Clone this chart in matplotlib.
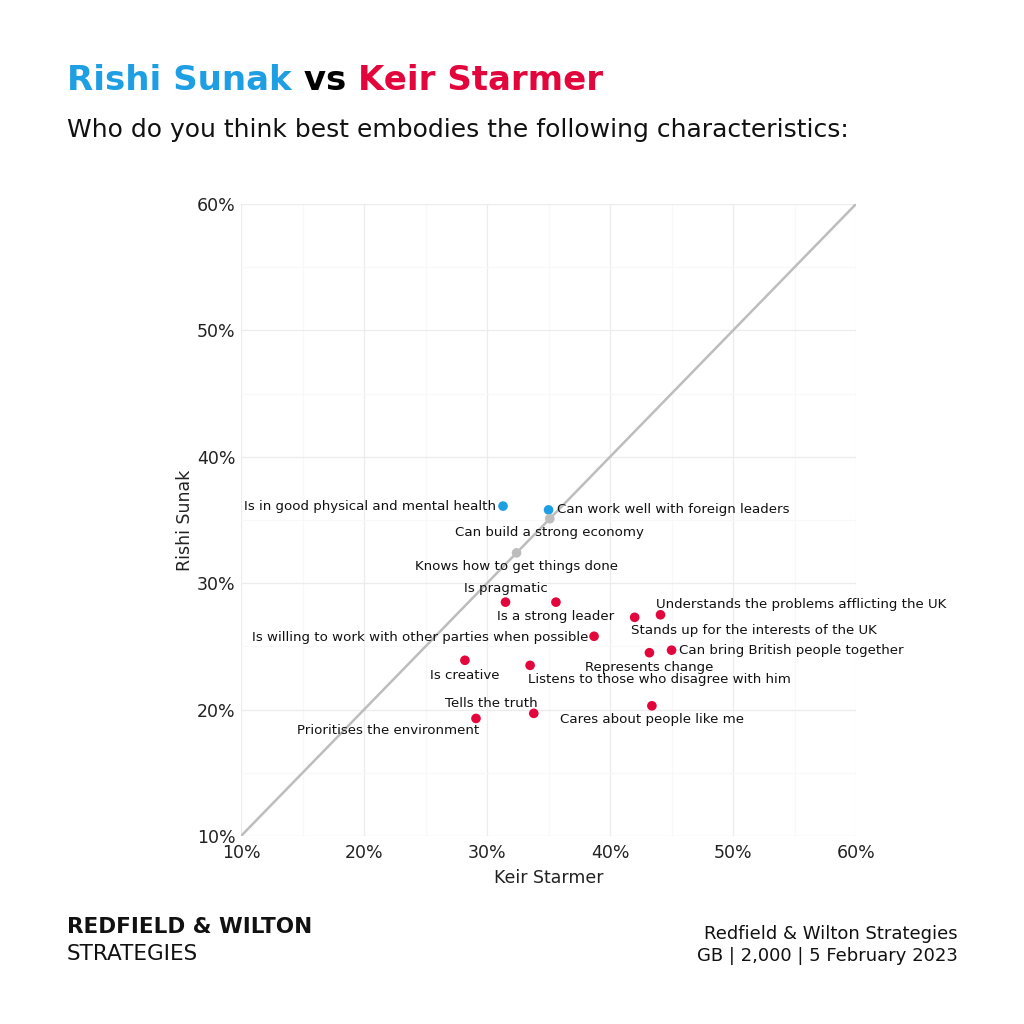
import matplotlib

matplotlib.use('Agg')
import matplotlib.pyplot as plt
from matplotlib.ticker import MultipleLocator, FuncFormatter

BLUE = "#1f9fe3"
RED = "#e3063c"
GREY = "#bdbdbd"

labels = [
    "Is in good physical and mental health",
    "Can work well with foreign leaders",
    "Can build a strong economy",
    "Knows how to get things done",
    "Is pragmatic",
    "Is a strong leader",
    "Understands the problems afflicting the UK",
    "Stands up for the interests of the UK",
    "Is willing to work with other parties when possible",
    "Can bring British people together",
    "Represents change",
    "Is creative",
    "Listens to those who disagree with him",
    "Cares about people like me",
    "Tells the truth",
    "Prioritises the environment",
]
starmer = [31.3, 35.0, 35.1, 32.4, 31.5, 35.6, 44.1, 42.0, 38.7, 45.0, 43.2, 28.2, 33.5, 43.4, 33.8, 29.1]
sunak = [36.1, 35.8, 35.1, 32.4, 28.5, 28.5, 27.5, 27.3, 25.8, 24.7, 24.5, 23.9, 23.5, 20.3, 19.7, 19.3]
leader = ["sunak", "sunak", "tie", "tie", "starmer", "starmer", "starmer", "starmer",
          "starmer", "starmer", "starmer", "starmer", "starmer", "starmer", "starmer", "starmer"]

# label placement: offset in pixels and horizontal alignment
offsets = [(-7, 0, 'right'), (8, 0, 'left'), (0, -14, 'center'), (0, -14, 'center'),
           (0, 14, 'center'), (0, -14, 'center'), (-4, 10, 'left'), (-4, -13, 'left'),
           (-6, -1, 'right'), (7, 0, 'left'), (0, -15, 'center'), (0, -15, 'center'),
           (-2, -14, 'left'), (0, -14, 'center'), (4, 10, 'right'), (3, -12, 'right')]

colours = {"sunak": BLUE, "starmer": RED, "tie": GREY}

plt.rcParams['font.family'] = ['DejaVu Sans']
fig = plt.figure(figsize=(10.24, 10.24), dpi=100)
ax = fig.add_axes([0.2354, 0.1836, 0.6006, 0.6172])

ax.plot([10, 60], [10, 60], color=GREY, lw=1.8, zorder=1)
ax.scatter(starmer, sunak, s=48, c=[colours[l] for l in leader], zorder=3, linewidths=0)

for lab, x, y, (dx, dy, ha) in zip(labels, starmer, sunak, offsets):
    ax.annotate(lab, (x, y), xytext=(dx, dy), textcoords='offset pixels',
                ha=ha, va='center', fontsize=9.6, color='#111111', zorder=4)

ax.set_xlim(10, 60)
ax.set_ylim(10, 60)
ax.xaxis.set_major_locator(MultipleLocator(10))
ax.yaxis.set_major_locator(MultipleLocator(10))
ax.xaxis.set_minor_locator(MultipleLocator(5))
ax.yaxis.set_minor_locator(MultipleLocator(5))
pct = FuncFormatter(lambda v, p: "{:.0f}%".format(v))
ax.xaxis.set_major_formatter(pct)
ax.yaxis.set_major_formatter(pct)
ax.grid(which='major', color='#ececec', lw=0.9)
ax.grid(which='minor', color='#f8f8f8', lw=0.8)
ax.set_axisbelow(True)
for s in ax.spines.values():
    s.set_visible(False)
ax.tick_params(which='both', length=0, labelsize=12.5, colors='#222222')
ax.tick_params(axis='x', pad=6)
ax.tick_params(axis='y', pad=4)
ax.set_xlabel("Keir Starmer", fontsize=12.5, color='#222222', labelpad=5)
ax.set_ylabel("Rishi Sunak", fontsize=12.5, color='#222222', labelpad=2)

# multi-coloured title
fig.canvas.draw()
renderer = fig.canvas.get_renderer()
x0 = 67 / 1024
for part, col in [("Rishi Sunak", BLUE), (" vs ", "black"), ("Keir Starmer", RED)]:
    t = fig.text(x0, 1 - 80 / 1024, part, fontsize=24.5, fontweight='bold', color=col, va='center')
    bb = t.get_window_extent(renderer=renderer)
    x0 += bb.width / fig.bbox.width

fig.text(67 / 1024, 1 - 130 / 1024, "Who do you think best embodies the following characteristics:",
         fontsize=18, color='#111111', va='center')

fig.text(67 / 1024, 1 - 927 / 1024, "REDFIELD & WILTON", fontsize=15.5, fontweight='bold',
         color='#111111', va='center')
fig.text(67 / 1024, 1 - 954 / 1024, "STRATEGIES", fontsize=15.5, color='#111111', va='center')
fig.text(958 / 1024, 1 - 934 / 1024, "Redfield & Wilton Strategies", fontsize=13,
         color='#111111', va='center', ha='right')
fig.text(958 / 1024, 1 - 956 / 1024, "GB | 2,000 | 5 February 2023", fontsize=13,
         color='#111111', va='center', ha='right')

fig.savefig('out.png', dpi=100)
